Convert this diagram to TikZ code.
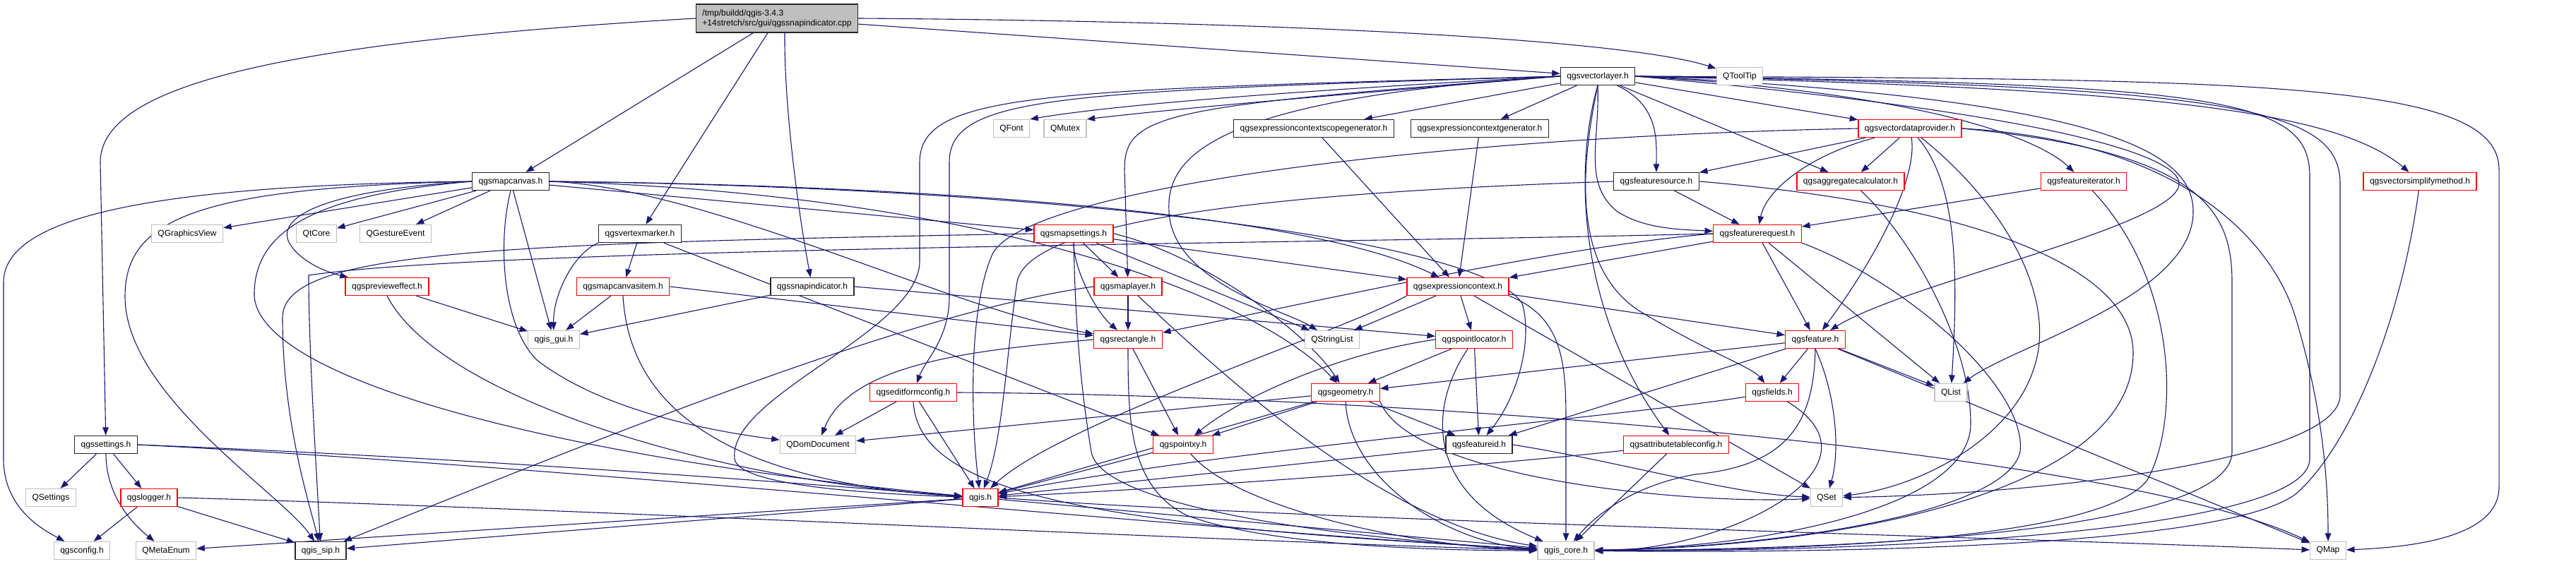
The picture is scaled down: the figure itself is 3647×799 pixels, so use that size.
\documentclass[tikz,border=0pt]{standalone}
\usepackage{fontspec}
\setmainfont{Liberation Sans}
\usetikzlibrary{arrows.meta}
\definecolor{edgec}{HTML}{191970}
\definecolor{redb}{HTML}{FF0000}
\definecolor{grayb}{HTML}{BFBFBF}
\definecolor{rootf}{HTML}{BFBFBF}
\pgfdeclarelayer{bg}
\pgfsetlayers{bg,main}
\begin{document}
\begin{tikzpicture}[x=1pt,y=1pt,
  nd/.style={draw=black!85, fill=white, line width=1.3pt, minimum height=25pt, inner xsep=9pt, inner ysep=0pt, font=\fontsize{12}{14}\selectfont},
  nr/.style={nd, draw=redb},
  ng/.style={nd, draw=grayb},
  e/.style={draw=edgec, line width=1.1pt, -{Triangle[length=11.5pt,width=8.5pt]}},
]
\useasboundingbox (0,0) rectangle (3647,-799);
% row 0
\node[nd, fill=rootf, align=left, minimum height=40pt] (root) at (1100,-26) {/tmp/buildd/qgis-3.4.3\\+14stretch/src/gui/qgssnapindicator.cpp};
% row 1
\node[nd] (vl) at (2262,-108) {qgsvectorlayer.h};
\node[ng] (qtooltip) at (2463,-108) {QToolTip};
% row 2
\node[ng] (qfont) at (1432,-182) {QFont};
\node[ng] (qmutex) at (1508,-182) {QMutex};
\node[nd] (ecsg) at (1860,-182) {qgsexpressioncontextscopegenerator.h};
\node[nd] (ecg) at (2095,-182) {qgsexpressioncontextgenerator.h};
\node[nr] (vdp) at (2704,-182) {qgsvectordataprovider.h};
% row 3
\node[nd] (mc) at (723,-257) {qgsmapcanvas.h};
\node[nd] (fs) at (2345,-257) {qgsfeaturesource.h};
\node[nr] (ac) at (2620,-257) {qgsaggregatecalculator.h};
\node[nr] (fi) at (2950,-257) {qgsfeatureiterator.h};
\node[nr] (vsm) at (3426,-257) {qgsvectorsimplifymethod.h};
% row 4
\node[ng] (qgv) at (265,-331) {QGraphicsView};
\node[ng] (qtcore) at (448,-331) {QtCore};
\node[ng] (qge) at (560,-331) {QGestureEvent};
\node[nd] (vm) at (906,-331) {qgsvertexmarker.h};
\node[nr] (ms) at (1520,-331) {qgsmapsettings.h};
\node[nr] (fr) at (2488,-331) {qgsfeaturerequest.h};
% row 5
\node[nr] (pe) at (548,-406) {qgsprevieweffect.h};
\node[nr] (mci) at (882,-406) {qgsmapcanvasitem.h};
\node[nd] (si) at (1150,-406) {qgssnapindicator.h};
\node[nr] (ml) at (1597,-406) {qgsmaplayer.h};
\node[nr] (ec) at (2064,-406) {qgsexpressioncontext.h};
% row 6
\node[ng] (gui) at (784,-481) {qgis\_gui.h};
\node[nr] (rect) at (1597,-481) {qgsrectangle.h};
\node[ng] (qsl) at (1886,-481) {QStringList};
\node[nr] (pl) at (2087,-481) {qgspointlocator.h};
\node[nr] (feat) at (2570,-481) {qgsfeature.h};
% row 7
\node[nr] (efc) at (1293,-556) {qgseditformconfig.h};
\node[nr] (geom) at (1905,-556) {qgsgeometry.h};
\node[nr] (fields) at (2509,-556) {qgsfields.h};
\node[ng] (qlist) at (2762,-556) {QList};
% row 8
\node[nd] (sett) at (150,-630) {qgssettings.h};
\node[ng] (qdom) at (1158,-630) {QDomDocument};
\node[nr] (pxy) at (1675,-630) {qgspointxy.h};
\node[nd] (fid) at (2094,-630) {qgsfeatureid.h};
\node[nr] (atc) at (2373,-630) {qgsattributetableconfig.h};
% row 9
\node[ng] (qsettings) at (72,-705) {QSettings};
\node[nr] (logger) at (211,-705) {qgslogger.h};
\node[nr] (qgis) at (1388,-705) {qgis.h};
\node[ng] (qset) at (2586,-705) {QSet};
% row 10
\node[ng] (qgsconfig) at (116,-780) {qgsconfig.h};
\node[ng] (qmeta) at (235,-780) {QMetaEnum};
\node[nd] (sip) at (454,-780) {qgis\_sip.h};
\node[ng] (core) at (2217,-780) {qgis\_core.h};
\node[ng] (qmap) at (3296,-780) {QMap};

\begin{pgfonlayer}{bg}
\fill[white] (0,0) rectangle (3647,-799);
% root
\draw[e] (root) -- (vl);
\draw[e] (root.east) .. controls (1800,-30) and (2300,-55) .. (qtooltip);
\draw[e] (root) -- (mc);
\draw[e] (root) -- (vm);
\draw[e] (root.-62) .. controls (1110,-150) and (1130,-300) .. (si);
\draw[e] (root.west) .. controls (400,-60) and (142,-120) .. (142,-230) -- (sett);
% qgsvectorlayer.h
\draw[e] (vl.west) .. controls (1900,-125) and (1600,-145) .. (qfont.north east);
\draw[e] (vl.west) .. controls (1950,-130) and (1700,-150) .. (qmutex.north east);
\draw[e] (vl) -- (ecsg);
\draw[e] (vl) -- (ecg);
\draw[e] (vl) -- (vdp);
\draw[e] (vl) .. controls (2350,-150) and (2345,-200) .. (fs);
\draw[e] (vl) -- (ac);
\draw[e] (vl.east) .. controls (2700,-130) and (2880,-190) .. (fi);
\draw[e] (vl.east) .. controls (3000,-125) and (3300,-150) .. (vsm);
\draw[e] (vl.east) .. controls (3200,-112) and (3538,-115) .. (3538,-240) -- (3538,-690) .. controls (3538,-760) and (3420,-775) .. (qmap);
\draw[e] (vl.east) .. controls (3150,-118) and (3270,-140) .. (3270,-250) -- (3270,-650) .. controls (3270,-750) and (2700,-782) .. (core);
\draw[e] (vl.east) .. controls (3150,-122) and (3313,-150) .. (3313,-260) -- (3313,-560) .. controls (3313,-650) and (2900,-700) .. (qset);
\draw[e] (vl.east) .. controls (3000,-140) and (3105,-220) .. (3105,-300) .. controls (3105,-420) and (2850,-490) .. (qlist);
\draw[e] (vl.east) .. controls (2900,-160) and (3085,-220) .. (3085,-260) .. controls (3085,-320) and (2700,-400) .. (feat);
\draw[e] (vl.west) .. controls (1720,-140) and (1650,-220) .. (1655,-300) .. controls (1660,-400) and (1820,-440) .. (qsl);
\draw[e] (vl.west) .. controls (1650,-150) and (1592,-160) .. (1592,-240) -- (ml);
\draw[e] (vl.west) .. controls (1500,-130) and (1344,-135) .. (1344,-230) -- (1344,-420) .. controls (1344,-480) and (1310,-510) .. (efc);
\draw[e] (vl.west) .. controls (1480,-128) and (1302,-130) .. (1302,-230) -- (1302,-370) .. controls (1302,-470) and (1030,-560) .. (1040,-650) .. controls (1045,-690) and (1250,-700) .. (qgis);
\draw[e] (vl.south) .. controls (2265,-200) and (2240,-260) .. (2290,-300) .. controls (2330,-325) and (2380,-325) .. (fr);
\draw[e] (vl.south) .. controls (2235,-250) and (2230,-380) .. (2320,-440) .. controls (2420,-500) and (2480,-520) .. (fields);
\draw[e] (vl.south) .. controls (2225,-250) and (2240,-450) .. (atc);
% expression context generators
\draw[e] (ecsg) -- (ec);
\draw[e] (ecg) -- (ec);
% qgsvectordataprovider.h
\draw[e] (vdp) -- (fs);
\draw[e] (vdp) -- (ac);
\draw[e] (vdp) .. controls (2560,-220) and (2500,-270) .. (fr);
\draw[e] (vdp) .. controls (2715,-250) and (2660,-360) .. (feat);
\draw[e] (vdp) .. controls (2770,-260) and (2773,-380) .. (qlist);
\draw[e] (vdp) .. controls (2850,-300) and (2910,-430) .. (2880,-520) .. controls (2850,-620) and (2720,-690) .. (qset);
\draw[e] (vdp.east) .. controls (3100,-200) and (3220,-350) .. (3250,-450) .. controls (3280,-550) and (3296,-650) .. (qmap);
\draw[e] (vdp.east) .. controls (3120,-215) and (3160,-300) .. (3160,-400) -- (3160,-640) .. controls (3160,-745) and (2700,-778) .. (core);
\draw[e] (vdp.west) .. controls (2000,-195) and (1450,-270) .. (1405,-360) .. controls (1370,-440) and (1375,-600) .. (qgis);
% qgsfeaturesource.h
\draw[e] (fs) -- (fr);
\draw[e] (fs.west) .. controls (1900,-270) and (1460,-300) .. (1440,-399) .. controls (1425,-500) and (1420,-620) .. (qgis);
\draw[e] (fs.east) .. controls (2800,-290) and (3020,-380) .. (3020,-500) .. controls (3020,-700) and (2600,-775) .. (core);
% others row 3
\draw[e] (ac) .. controls (2700,-330) and (2790,-480) .. (2790,-600) .. controls (2790,-720) and (2500,-775) .. (core);
\draw[e] (fi) -- (fr);
\draw[e] (fi) .. controls (3085,-400) and (3085,-600) .. (3040,-680) .. controls (2980,-760) and (2600,-780) .. (core);
\draw[e] (vsm) .. controls (3400,-450) and (3330,-630) .. (3250,-700) .. controls (3150,-775) and (2600,-784) .. (core);
% qgsmapcanvas.h
\draw[e] (mc) -- (qgv);
\draw[e] (mc) -- (qtcore);
\draw[e] (mc) -- (qge);
\draw[e] (mc) -- (ms);
\draw[e] (mc.west) .. controls (450,-270) and (390,-310) .. (410,-345) .. controls (425,-370) and (460,-385) .. (pe);
\draw[e] (mc) -- (gui);
\draw[e] (mc.west) .. controls (250,-262) and (5,-300) .. (5,-400) -- (5,-650) .. controls (5,-720) and (60,-750) .. (qgsconfig);
\draw[e] (mc.west) .. controls (280,-266) and (177,-310) .. (177,-420) .. controls (177,-560) and (400,-700) .. (sip);
\draw[e] (mc.west) .. controls (460,-275) and (358,-320) .. (360,-420) .. controls (370,-540) and (800,-650) .. (qgis);
\draw[e] (mc.south) .. controls (705,-340) and (710,-460) .. (760,-510) .. controls (850,-580) and (1000,-610) .. (qdom);
\draw[e] (mc.east) .. controls (1000,-265) and (1350,-440) .. (rect);
\draw[e] (mc.east) .. controls (1300,-262) and (1850,-300) .. (ec);
\draw[e] (mc.east) .. controls (1500,-265) and (2100,-340) .. (2155,-430) .. controls (2170,-480) and (2150,-560) .. (fid);
\draw[e] (mc.east) .. controls (1400,-275) and (1780,-420) .. (geom);
% qgsvertexmarker.h
\draw[e] (vm) -- (mci);
\draw[e] (vm.south west) .. controls (810,-360) and (783,-420) .. (gui);
\draw[e] (vm) -- (pxy);
% qgsmapsettings.h
\draw[e] (ms.west) .. controls (700,-345) and (400,-355) .. (400,-450) .. controls (400,-600) and (440,-720) .. (sip);
\draw[e] (ms) -- (ec);
\draw[e] (ms) -- (ml);
\draw[e] (ms) .. controls (1520,-380) and (1550,-440) .. (rect);
\draw[e] (ms) -- (qsl);
\draw[e] (ms.south) .. controls (1522,-420) and (1525,-520) .. (1545,-640) .. controls (1560,-730) and (2000,-770) .. (core);
\draw[e] (ms.east) .. controls (1700,-360) and (1850,-470) .. (geom);
% qgsfeaturerequest.h
\draw[e] (fr) -- (ec);
\draw[e] (fr) -- (feat);
\draw[e] (fr.west) .. controls (1900,-345) and (700,-350) .. (437,-390) .. controls (437,-500) and (450,-700) .. (sip);
\draw[e] (fr.south east) .. controls (2700,-400) and (2870,-550) .. (2860,-640) .. controls (2840,-730) and (2500,-776) .. (core);
\draw[e] (fr) -- (qlist);
\draw[e] (fr.west) .. controls (2200,-350) and (1850,-430) .. (rect);
% row 5
\draw[e] (pe) -- (gui);
\draw[e] (pe.south) .. controls (620,-560) and (1000,-680) .. (qgis);
\draw[e] (mci) -- (gui);
\draw[e] (mci.east) -- (rect);
\draw[e] (mci.south) .. controls (890,-560) and (1000,-680) .. (qgis);
\draw[e] (si) -- (gui);
\draw[e] (si.east) -- (pl);
\draw[e] (ml) -- (rect);
\draw[e] (ml.west) .. controls (1300,-440) and (900,-600) .. (sip);
\draw[e] (ml) .. controls (1720,-520) and (1950,-740) .. (core);
\draw[e] (ec) -- (qsl);
\draw[e] (ec) -- (pl);
\draw[e] (ec) -- (feat);
\draw[e] (ec.south east) .. controls (2215,-450) and (2217,-520) .. (2217,-600) -- (core);
\draw[e] (ec) -- (qset);
\draw[e] (ec.south west) .. controls (1900,-470) and (1500,-600) .. (qgis);
% row 6
\draw[e] (rect) -- (pxy);
\draw[e] (rect.south) .. controls (1597,-600) and (1600,-690) .. (1680,-730) .. controls (1800,-775) and (2050,-780) .. (core);
\draw[e] (rect.west) .. controls (1400,-495) and (1205,-510) .. (qdom);
\draw[e] (pl) -- (geom);
\draw[e] (pl) -- (fid);
\draw[e] (pl) .. controls (2020,-580) and (2020,-700) .. (core);
\draw[e] (pl.west) .. controls (1900,-500) and (1760,-560) .. (pxy);
\draw[e] (feat) -- (qlist);
\draw[e] (feat) -- (fields);
\draw[e] (feat.south) .. controls (2600,-560) and (2605,-640) .. (qset);
\draw[e] (feat) -- (qmap);
\draw[e] (feat.south) .. controls (2568,-600) and (2530,-660) .. (2400,-672) .. controls (2300,-690) and (2250,-740) .. (core);
\draw[e] (feat) -- (fid);
\draw[e] (feat) -- (geom);
% row 7
\draw[e] (efc) -- (qdom);
\draw[e] (efc) -- (qgis);
\draw[e] (efc.south) .. controls (1300,-700) and (1550,-745) .. (core);
\draw[e] (efc.east) .. controls (2000,-560) and (3000,-640) .. (qmap);
\draw[e] (geom) -- (qdom);
\draw[e] (geom) -- (pxy);
\draw[e] (geom) -- (qgis);
\draw[e] (geom) -- (fid);
\draw[e] (geom.south) .. controls (1910,-680) and (2050,-770) .. (core);
\draw[e] (geom.south east) .. controls (2000,-680) and (2400,-715) .. (qset);
\draw[e] (fields) .. controls (2300,-590) and (1700,-640) .. (qgis);
\draw[e] (fields) .. controls (2680,-660) and (2450,-780) .. (core);
% row 8
\draw[e] (sett) -- (qsettings);
\draw[e] (sett) -- (logger);
\draw[e] (sett.south) .. controls (150,-700) and (185,-740) .. (qmeta);
\draw[e] (sett.east) .. controls (700,-650) and (1200,-690) .. (qgis);
\draw[e] (sett.east) .. controls (800,-660) and (1800,-760) .. (core);
\draw[e] (pxy) -- (qgis);
\draw[e] (pxy) .. controls (1750,-720) and (2000,-775) .. (core);
\draw[e] (fid) -- (qgis);
\draw[e] (fid.east) .. controls (2300,-655) and (2450,-700) .. (qset);
\draw[e] (atc) -- (core);
\draw[e] (atc) .. controls (2100,-660) and (1700,-690) .. (qgis);
% row 9
\draw[e] (logger) -- (qgsconfig);
\draw[e] (logger) -- (sip);
\draw[e] (logger.east) .. controls (800,-720) and (1800,-770) .. (core);
\draw[e] (qgis) -- (qmeta);
\draw[e] (qgis) -- (sip);
\draw[e] (qgis) -- (core);
\draw[e] (qgis.east) .. controls (1800,-735) and (2800,-760) .. (qmap);
\end{pgfonlayer}
\end{tikzpicture}
\end{document}
